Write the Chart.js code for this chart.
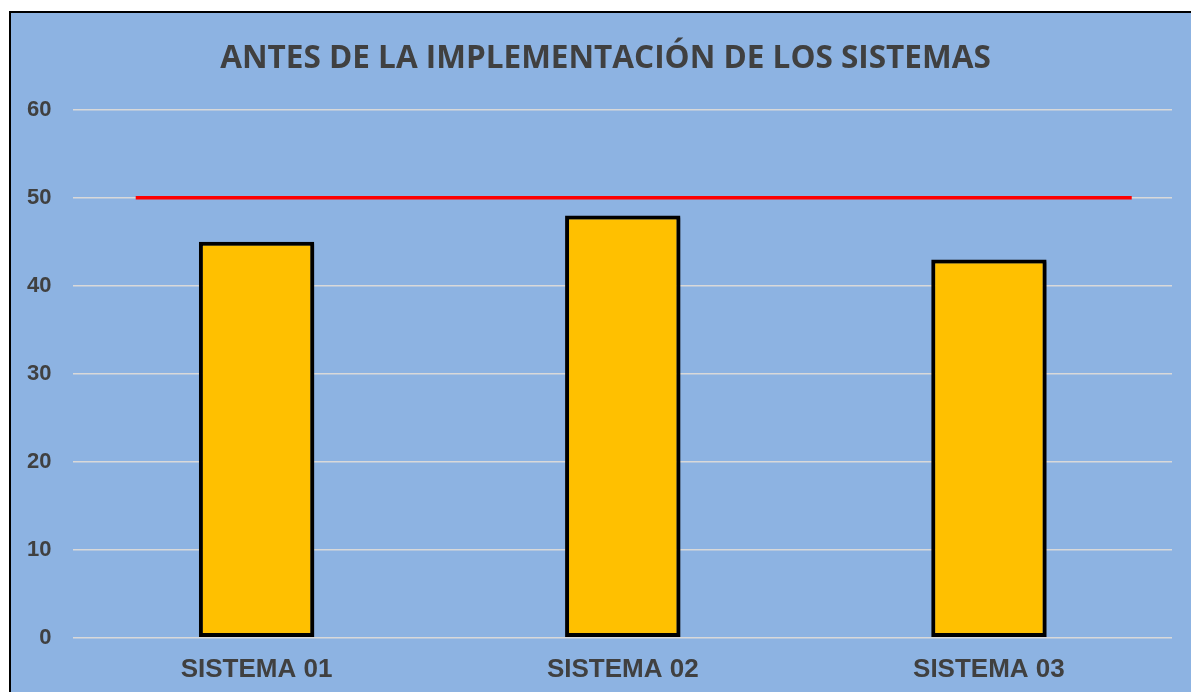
<!DOCTYPE html>
<html>
<head>
<meta charset="utf-8">
<script src="https://cdn.jsdelivr.net/npm/chart.js@4"></script>
<style>
  html, body { margin: 0; padding: 0; background: #fff; overflow: hidden; }
  #frame {
    position: absolute; left: 9px; top: 11px;
    width: 1189px; height: 700px;
    background: #8db3e2; border: 2px solid #000;
  }
  #wrap { position: absolute; left: 0; top: 0; width: 1191px; height: 692px; }
</style>
</head>
<body>
<div id="frame"></div>
<div id="wrap"><canvas id="Chart"></canvas></div>
<script>
const categories = ["SISTEMA 01", "SISTEMA 02", "SISTEMA 03"];
const categoryPos = [0.5, 1.5, 2.5];
const values = [45, 48, 43];
// target line at 50, given in category units along the x axis
const targetX = [0.17, 2.89];
const targetY = [50, 50];
const yTicks = [0, 10, 20, 30, 40, 50, 60];

const textColor = "#404040";

// soft dark shadow to the lower right of each bar
const barShadow = {
  id: "barShadow",
  beforeDatasetDraw(chart, args) {
    if (args.index !== 0) return;
    const ctx = chart.ctx;
    ctx.save();
    ctx.shadowColor = "rgba(0,0,0,0.45)";
    ctx.shadowOffsetX = 2;
    ctx.shadowOffsetY = 2;
    ctx.shadowBlur = 2;
  },
  afterDatasetDraw(chart, args) {
    if (args.index !== 0) return;
    chart.ctx.restore();
  },
};

// center the title over the whole framed box, not just the canvas
const frameTitle = {
  id: "frameTitle",
  afterLayout(chart) {
    const t = chart.titleBlock;
    if (!t) return;
    const box = document.getElementById("frame").getBoundingClientRect();
    const c = chart.canvas.getBoundingClientRect();
    t.left = box.left - c.left;
    t.right = box.right - c.left;
  },
};

new Chart(document.getElementById("Chart"), {
  type: "bar",
  data: {
    datasets: [
      {
        label: "Valor",
        data: values.map((v, i) => ({ x: categoryPos[i], y: v })),
        backgroundColor: "#ffc000",
        borderColor: "#000",
        borderWidth: 4,
        borderSkipped: false,
        barPercentage: 0.315,
        categoryPercentage: 1,
        order: 2,
      },
      {
        type: "line",
        label: "Meta",
        data: targetX.map((x, i) => ({ x, y: targetY[i] })),
        borderColor: "#ff0000",
        borderWidth: 3.5,
        pointRadius: 0,
        fill: false,
        order: 1,
      },
    ],
  },
  options: {
    responsive: true,
    maintainAspectRatio: false,
    animation: false,
    layout: { padding: { left: 5, right: 19, top: 0, bottom: -9 } },
    plugins: {
      legend: { display: false },
      tooltip: { enabled: false },
      title: {
        display: true,
        text: "ANTES DE LA IMPLEMENTACIÓN DE LOS SISTEMAS",
        color: textColor,
        font: { family: "Open Sans", size: 31.5, weight: "bold", lineHeight: 1.2 },
        padding: { top: 40, bottom: 32 },
      },
    },
    scales: {
      x: {
        type: "linear",
        min: 0,
        max: 3,
        offset: false,
        afterBuildTicks(axis) {
          axis.ticks = categoryPos.map((v) => ({ value: v }));
        },
        grid: { display: false, drawTicks: false },
        border: { display: false },
        ticks: {
          color: textColor,
          padding: 16,
          autoSkip: false,
          maxRotation: 0,
          callback: (v) => categories[categoryPos.indexOf(v)],
          font: { family: "Liberation Sans", size: 26, weight: "bold", lineHeight: 1.2 },
        },
      },
      y: {
        min: 0,
        max: 60,
        afterBuildTicks(axis) {
          axis.ticks = yTicks.map((v) => ({ value: v }));
        },
        grid: { color: "#d9d9d9", lineWidth: 1.5, drawTicks: false },
        border: { display: false },
        ticks: {
          color: textColor,
          padding: 22,
          font: { family: "Liberation Sans", size: 22, weight: "bold" },
        },
      },
    },
  },
  plugins: [barShadow, frameTitle],
});
</script>
</body>
</html>
